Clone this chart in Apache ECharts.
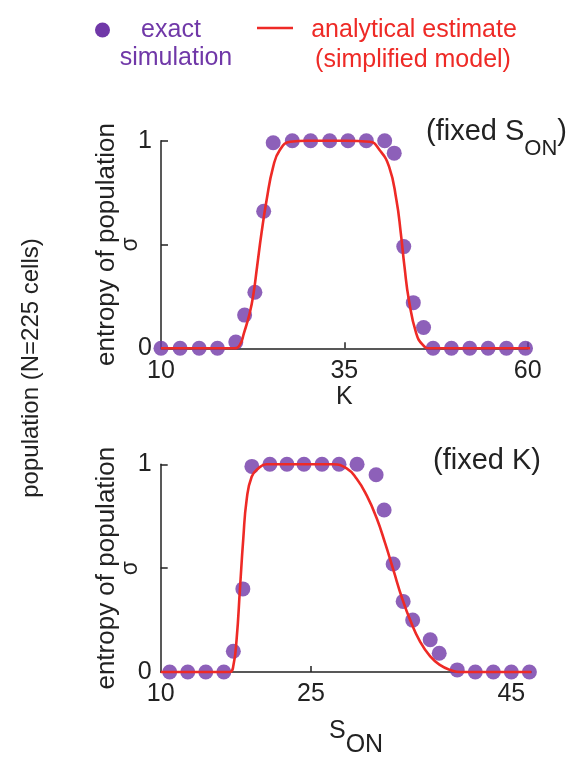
<!DOCTYPE html>
<html>
<head>
<meta charset="utf-8">
<script src="https://cdn.jsdelivr.net/npm/echarts@6/dist/echarts.min.js"></script>
<style>
  html, body { margin: 0; padding: 0; background: #ffffff; }
  #chart { width: 575px; height: 759px; }
</style>
</head>
<body>
<div id="chart"></div>
<script>
// Panel 1: entropy vs K (S_ON fixed)
const kSim = [10, 12.6, 15.2, 17.7, 20.2, 21.4, 22.8, 24.0, 25.3, 27.9, 30.4, 33.0, 35.5, 38.0, 40.5, 41.8, 43.1, 44.4, 45.8, 47.1, 49.6, 52.1, 54.6, 57.1, 59.7];
const kSimEntropy = [0, 0, 0, 0, 0.03, 0.16, 0.27, 0.66, 0.99, 1, 1, 1, 1, 1, 1, 0.94, 0.49, 0.22, 0.10, 0, 0, 0, 0, 0, 0];
const kModel = [10, 15, 20.0, 20.75, 21.3, 22.1, 22.6, 23.1, 23.7, 24.4, 25.3, 26.2, 27.6, 30, 35, 38.45, 39.8, 41.1, 42.1, 42.7, 43.2, 43.8, 44.8, 45.7, 46.6, 50, 55, 61.2];
const kModelEntropy = [0, 0, 0, 0.016, 0.072, 0.17, 0.26, 0.393, 0.554, 0.714, 0.875, 0.955, 0.995, 1, 1, 0.995, 0.955, 0.875, 0.714, 0.554, 0.393, 0.233, 0.072, 0.016, 0, 0, 0, 0];

// Panel 2: entropy vs S_ON (K fixed)
const sSim = [10.9, 12.7, 14.5, 16.3, 17.25, 18.2, 19.1, 20.9, 22.6, 24.3, 26.1, 27.8, 29.6, 31.5, 32.3, 33.2, 34.2, 35.15, 36.9, 37.8, 39.6, 41.4, 43.2, 45.0, 46.8];
const sSimEntropy = [0, 0, 0, 0, 0.10, 0.40, 0.99, 1, 1, 1, 1, 1, 1, 0.95, 0.78, 0.52, 0.34, 0.25, 0.155, 0.09, 0.01, 0, 0, 0, 0];
const sModel = [10, 14, 16.9, 17.25, 17.58, 17.91, 18.24, 18.58, 19.08, 19.74, 20.57, 24, 27.2, 28.56, 29.56, 30.56, 31.56, 32.4, 33.23, 34.06, 34.9, 35.9, 36.9, 37.9, 38.9, 39.9, 43, 47];
const sModelEntropy = [0, 0, 0, 0.03, 0.16, 0.40, 0.64, 0.83, 0.94, 0.98, 1, 1, 1, 0.98, 0.93, 0.85, 0.74, 0.62, 0.49, 0.36, 0.25, 0.145, 0.075, 0.033, 0.01, 0, 0, 0];

// Axis tick labels
const kLabels = [10, 35, 60];
const sLabels = [10, 25, 45];
const yLabels = [0, 1];

const FONT = "'Liberation Sans', Arial, Helvetica, sans-serif";
const INK = '#222222';
const PURPLE = '#7038a8';
const RED = '#ee2a26';

const pairs = (xs, ys) => xs.map((x, i) => [x, ys[i]]);

function xAxisFor(grid, min, max, labels, ticks, name, nameGap, nameStyle) {
  return {
    type: 'value', gridIndex: grid, min: min, max: max,
    axisLine: { onZero: false, lineStyle: { color: INK, width: 1.5 } },
    axisTick: { customValues: ticks, inside: true, length: 6, lineStyle: { color: INK, width: 1.5 } },
    axisLabel: { customValues: labels, fontSize: 25, color: INK, fontFamily: FONT, margin: 10 },
    splitLine: { show: false },
    name: name, nameLocation: 'middle', nameGap: nameGap, nameMoveOverlap: false,
    nameTextStyle: nameStyle
  };
}

function yAxisFor(grid) {
  return {
    type: 'value', gridIndex: grid, min: 0, max: 1,
    axisLine: { show: true, lineStyle: { color: INK, width: 1.5 } },
    axisTick: { show: true, customValues: [0.5, 1], inside: true, length: 7, lineStyle: { color: INK, width: 1.5 } },
    axisLabel: { customValues: yLabels, fontSize: 25, color: INK, fontFamily: FONT, margin: 9 },
    splitLine: { show: false },
    name: '{a|entropy of population}\n{b|σ}',
    nameLocation: 'middle', nameRotate: 90, nameGap: 19, nameMoveOverlap: false,
    nameTextStyle: {
      color: INK, fontFamily: FONT,
      rich: {
        a: { fontSize: 26, lineHeight: 26, color: INK, fontFamily: FONT },
        b: { fontSize: 23, lineHeight: 22, color: INK, fontFamily: FONT }
      }
    }
  };
}

const chart = echarts.init(document.getElementById('chart'), null, { renderer: 'canvas' });

chart.setOption({
  backgroundColor: '#ffffff',
  animation: false,
  grid: [
    { left: 161, top: 140.7, width: 366.7, height: 207.6 },
    { left: 160.7, top: 464.3, width: 370.7, height: 208 }
  ],
  xAxis: [
    xAxisFor(0, 10, 60, kLabels, [35, 60], 'K', 36,
      { fontSize: 25, color: INK, fontFamily: FONT }),
    xAxisFor(1, 10, 47, sLabels, [25], '{s|S}{sub|ON}', 47,
      {
        color: INK, fontFamily: FONT, padding: [0, 0, 0, 20],
        rich: {
          s: { fontSize: 25, lineHeight: 25, verticalAlign: 'top', color: INK, fontFamily: FONT },
          sub: { fontSize: 25, lineHeight: 25, verticalAlign: 'top', padding: [14, 0, 0, 0], color: INK, fontFamily: FONT }
        }
      })
  ],
  yAxis: [yAxisFor(0), yAxisFor(1)],
  series: [
    {
      name: 'exact simulation', type: 'scatter', xAxisIndex: 0, yAxisIndex: 0,
      data: pairs(kSim, kSimEntropy), symbolSize: 15, clip: false,
      itemStyle: { color: PURPLE }
    },
    {
      name: 'analytical estimate', type: 'line', xAxisIndex: 0, yAxisIndex: 0,
      data: pairs(kModel, kModelEntropy), showSymbol: false, clip: false,
      smooth: 0.5,
      lineStyle: { color: RED, width: 2.6 }, itemStyle: { color: RED }
    },
    {
      name: 'exact simulation', type: 'scatter', xAxisIndex: 1, yAxisIndex: 1,
      data: pairs(sSim, sSimEntropy), symbolSize: 15, clip: false,
      itemStyle: { color: PURPLE }
    },
    {
      name: 'analytical estimate', type: 'line', xAxisIndex: 1, yAxisIndex: 1,
      data: pairs(sModel, sModelEntropy), showSymbol: false, clip: false,
      smooth: 0.5,
      lineStyle: { color: RED, width: 2.6 }, itemStyle: { color: RED }
    }
  ],
  graphic: [
    // key
    { type: 'circle', shape: { cx: 102.5, cy: 30, r: 7.5 }, style: { fill: PURPLE } },
    { type: 'text', x: 171, y: 30, style: { text: 'exact', fill: PURPLE, font: '25px ' + FONT, align: 'center', verticalAlign: 'middle' } },
    { type: 'text', x: 176, y: 58, style: { text: 'simulation', fill: PURPLE, font: '25px ' + FONT, align: 'center', verticalAlign: 'middle' } },
    { type: 'line', shape: { x1: 257, y1: 28, x2: 293, y2: 28 }, style: { stroke: RED, lineWidth: 2.6 } },
    { type: 'text', x: 414, y: 30, style: { text: 'analytical estimate', fill: RED, font: '25px ' + FONT, align: 'center', verticalAlign: 'middle' } },
    { type: 'text', x: 413, y: 60, style: { text: '(simplified model)', fill: RED, font: '25px ' + FONT, align: 'center', verticalAlign: 'middle' } },
    // panel notes
    {
      type: 'text', x: 426, y: 117,
      style: {
        text: '{a|(fixed S}{b|ON}{a|)}', fill: INK, align: 'left', verticalAlign: 'top',
        rich: {
          a: { fontSize: 29, lineHeight: 30, verticalAlign: 'top', fontFamily: FONT, fill: INK },
          b: { fontSize: 22, lineHeight: 22, verticalAlign: 'top', padding: [21, 0, 0, 0], fontFamily: FONT, fill: INK }
        }
      }
    },
    { type: 'text', x: 433, y: 461, style: { text: '(fixed K)', fill: INK, font: '29px ' + FONT, align: 'left', verticalAlign: 'middle' } },
    // shared vertical caption
    { type: 'text', x: 31, y: 368, rotation: Math.PI / 2, style: { text: 'population (N=225 cells)', fill: INK, font: '24px ' + FONT, align: 'center', verticalAlign: 'middle' } }
  ]
});
</script>
</body>
</html>
